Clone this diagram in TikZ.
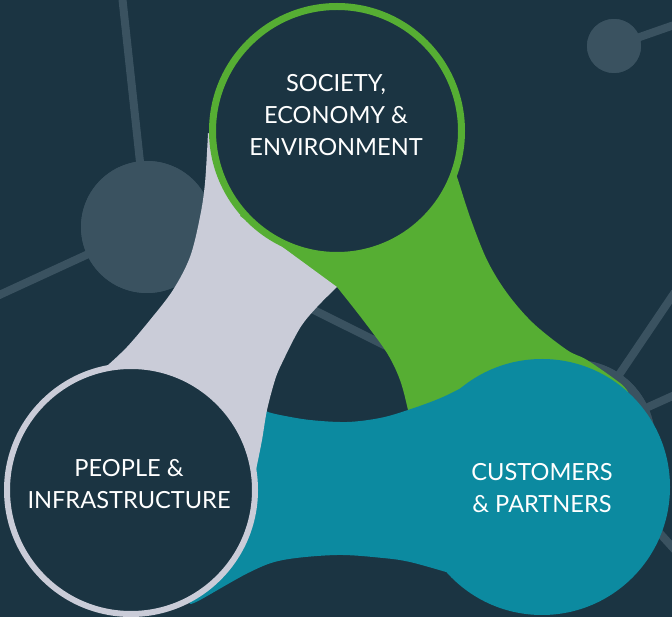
\documentclass[tikz,border=0pt]{standalone}
\usepackage{fontspec}
\setmainfont{Lato}
\definecolor{bgc}{RGB}{27,52,66}
\definecolor{netc}{RGB}{58,82,96}
\definecolor{greenc}{RGB}{86,174,51}
\definecolor{greyc}{RGB}{202,204,216}
\definecolor{tealc}{RGB}{12,138,160}
\tikzset{
  netline/.style={draw=netc, line width=8pt},
  netdot/.style={circle, fill=netc, inner sep=0pt},
  band/.style={smooth, tension=0.55},
  lbl/.style={text=white, align=center, font=\fontsize{23.6}{32}\selectfont, inner sep=0pt},
}
\begin{document}
\begin{tikzpicture}[x=1pt,y=-1pt]
\useasboundingbox (0,0) rectangle (672,617);
\fill[bgc] (0,0) rectangle (672,617);
% background network
\node[netdot, minimum size=132pt] (bigdot) at (147,227) {};
\node[netdot, minimum size=54pt] (smalldot) at (614,46) {};
\node[netdot, minimum size=160pt] (hub) at (575,440) {};
\coordinate (ntop) at (122,-5);
\coordinate (nleft) at (-5,297);
\coordinate (nsright) at (677,24);
\coordinate (nhubup) at (675,292);
\coordinate (nhubright) at (677,394);
\coordinate (nhubdown) at (675,550);
\draw[netline] (ntop) -- (bigdot.center);
\draw[netline] (nleft) -- (bigdot.center);
\draw[netline] (bigdot.center) -- (hub.center);
\draw[netline] (smalldot.center) -- (nsright);
\draw[netline] (hub.center) -- (nhubup);
\draw[netline] (hub.center) -- (nhubright);
\draw[netline] (hub.center) -- (nhubdown);
\node[netdot, minimum size=132pt] at (bigdot) {};
\node[netdot, minimum size=54pt] at (smalldot) {};
\node[netdot, minimum size=160pt] at (hub) {};
% green band
\fill[greenc] (330,200) -- (215,200) -- (320,290) -- plot[band] coordinates {(337,287) (363,320) (387,353) (400,380) (408,410) (414,440)} -- (560,470) -- plot[band] coordinates {(628,392) (620,383) (587,360) (567,350) (533,323) (507,293) (487,260) (470,217) (457,177) (450,160)} -- cycle;
% teal band
\fill[tealc] (255,405) -- plot[band] coordinates {(268,412) (280,415) (310,420) (347,422) (380,418) (408,410) (443,397) (483,377) (517,363) (543,359)} -- (542,430) -- plot[band] coordinates {(446,572) (410,562) (383,558) (337,555) (283,560) (250,572) (200,600) (190,604)} -- (150,520) -- cycle;
\node[circle, fill=tealc, inner sep=0pt, minimum size=256pt] (customers) at (542,487) {};
% grey band
\fill[greyc] (260,160) -- plot[band] coordinates {(208,133) (205,183) (200,217) (190,257) (173,290) (150,320) (127,347) (108,365)} -- (131,430) -- plot[band] coordinates {(256,470) (262,440) (267,410) (275,380) (282,363) (300,328) (317,307) (337,287)} -- (240,216) -- (250,190) -- cycle;
% circles
\node[circle, draw=greenc, line width=7pt, fill=bgc, inner sep=0pt, minimum size=249pt] (society) at (337,131) {};
\node[circle, draw=greyc, line width=6pt, fill=bgc, inner sep=0pt, minimum size=248pt] (people) at (131,490) {};
% labels
\node[lbl] (societytxt) at (336,115) {SOCIETY,\\ECONOMY \&\\ENVIRONMENT};
\node[lbl] (peopletxt) at (129,484) {PEOPLE \&\\INFRASTRUCTURE};
\node[lbl] (customerstxt) at (542,488) {CUSTOMERS\\\& PARTNERS};
\end{tikzpicture}
\end{document}
